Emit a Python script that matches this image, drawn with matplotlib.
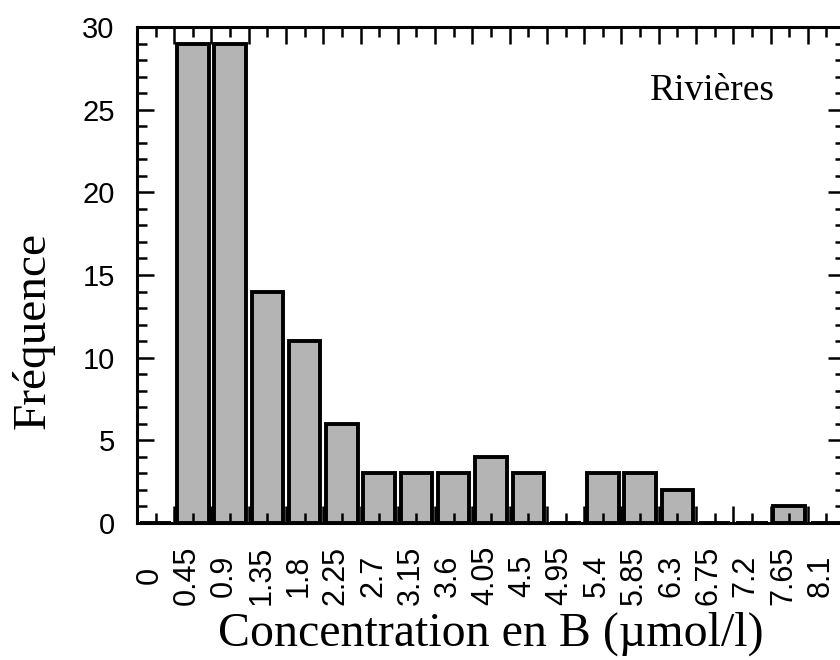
import matplotlib.pyplot as plt
import matplotlib.transforms as mtransforms
import numpy as np
from matplotlib.ticker import FixedLocator

# bin centres (µmol/l) and counts
classes = [0, 0.45, 0.9, 1.35, 1.8, 2.25, 2.7, 3.15, 3.6, 4.05, 4.5,
           4.95, 5.4, 5.85, 6.3, 6.75, 7.2, 7.65, 8.1]
tick_labels = ["0", "0.45", "0.9", "1.35", "1.8", "2.25", "2.7", "3.15", "3.6",
               "4.05", "4.5", "4.95", "5.4", "5.85", "6.3", "6.75", "7.2",
               "7.65", "8.1"]
counts = [0, 29, 29, 14, 11, 6, 3, 3, 3, 4, 3, 0, 3, 3, 2, 0, 0, 1, 0]
y_ticks = [0, 5, 10, 15, 20, 25, 30]

sans = ["Liberation Sans", "DejaVu Sans"]
serif = ["Liberation Serif", "DejaVu Serif"]

fig = plt.figure(figsize=(8.4, 6.6), dpi=100)
ax = fig.add_axes([0.163, 0.2076, 0.843, 0.7515])

ax.bar(classes, counts, width=0.38, color="#b4b4b4", edgecolor="black",
       linewidth=2.8)

ax.set_xlim(-0.225, 8.325)
ax.set_ylim(0, 30)

# major ticks at bin edges (no label), minor ticks at bin centres (labelled)
edges = np.array(classes) + 0.225
ax.xaxis.set_major_locator(FixedLocator(edges[:-1]))
ax.xaxis.set_minor_locator(FixedLocator(classes))
ax.set_xticklabels([], minor=False)
ax.set_xticklabels(tick_labels, minor=True, rotation=90, family=sans, fontsize=22)

ax.yaxis.set_major_locator(FixedLocator(y_ticks))
ax.yaxis.set_minor_locator(FixedLocator(range(0, 31)))
ax.set_yticklabels([str(v) for v in y_ticks], family=sans, fontsize=21)

ax.tick_params(which="both", direction="in", top=True, right=True, width=1.8)
ax.tick_params(which="major", length=12)
ax.tick_params(which="minor", length=7)
ax.tick_params(axis="x", which="minor", pad=38)
ax.tick_params(axis="y", which="major", pad=16)

# labels sit a little left of their ticks and are centred vertically
shift = mtransforms.ScaledTranslation(-6 / 100, 0, fig.dpi_scale_trans)
for lab in ax.get_xticklabels(minor=True):
    lab.set_va("center")
    lab.set_transform(lab.get_transform() + shift)

for s in ax.spines.values():
    s.set_linewidth(2.2)

ax.set_xlabel("Concentration en B (µmol/l)", family=serif, fontsize=34.5)
ax.xaxis.set_label_coords(0.5, -0.178)
ax.set_ylabel("Fréquence", family=serif, fontsize=34)
ax.yaxis.set_label_coords(-0.116, 0.389)

ax.text(0.7246, 0.853, "Rivières", transform=ax.transAxes, family=serif,
        fontsize=27, ha="left", va="baseline")

fig.savefig("out.png", dpi=100)
